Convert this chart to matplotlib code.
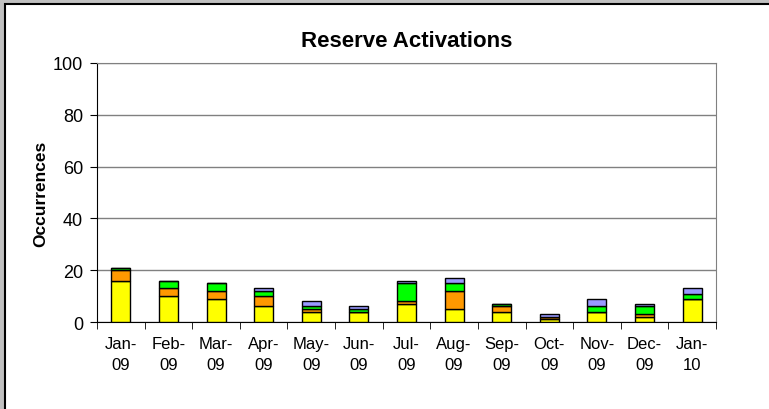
import matplotlib.pyplot as plt
from matplotlib.patches import Rectangle
import numpy as np

plt.rcParams['font.family'] = ['Liberation Sans', 'DejaVu Sans']

months = ["Jan-\n09", "Feb-\n09", "Mar-\n09", "Apr-\n09", "May-\n09", "Jun-\n09",
          "Jul-\n09", "Aug-\n09", "Sep-\n09", "Oct-\n09", "Nov-\n09", "Dec-\n09", "Jan-\n10"]
yellow = [16, 10, 9, 6, 4, 4, 7, 5, 4, 1, 4, 2, 9]
orange = [4, 3, 3, 4, 1, 0, 1, 7, 2, 1, 0, 1, 0]
green = [1, 3, 3, 2, 1, 1, 7, 3, 1, 0, 2, 3, 2]
blue = [0, 0, 0, 1, 2, 1, 1, 2, 0, 1, 3, 1, 2]

fig = plt.figure(figsize=(7.69, 4.10), dpi=100)
fig.patch.set_facecolor("#c0c0c0")
fig.add_artist(Rectangle((5 / 769, -0.01), 1.0, 1 - 5 / 410 + 0.01, transform=fig.transFigure,
                         facecolor="white", edgecolor="black", linewidth=1.5, zorder=-10))

ax = fig.add_axes([97 / 769, 1 - 323 / 410, (716 - 97) / 769, (323 - 64) / 410])
x = np.arange(len(months))
series = [(yellow, "#ffff00"), (orange, "#ff9900"), (green, "#00ff00"), (blue, "#9999ff")]
bottom = np.zeros(len(months))
for vals, col in series:
    ax.bar(x, vals, 0.4, bottom=bottom, color=col, edgecolor="black", linewidth=1, zorder=3)
    bottom += np.array(vals)

ax.set_xlim(-0.5, len(months) - 0.5)
ax.set_ylim(0, 100)
ax.set_yticks(range(0, 101, 20))
ax.yaxis.grid(True, color="#808080", linewidth=1)
ax.set_axisbelow(True)
ax.set_xticks(x)
ax.set_xticklabels(months, fontsize=12, linespacing=1.5)
ax.set_xticks(np.arange(-0.5, len(months)), minor=True)
ax.tick_params(axis="x", which="major", length=0, pad=10)
ax.tick_params(axis="x", which="minor", length=5, direction="out")
ax.tick_params(axis="y", labelsize=13, length=5, direction="out", pad=5)
for s in ["top", "right"]:
    ax.spines[s].set_color("#808080")
ax.set_ylabel("Occurrences", fontsize=12.5, fontweight="bold", labelpad=3)
ax.set_title("Reserve Activations", fontsize=16, fontweight="bold", pad=12)

fig.savefig("out.png", dpi=100, facecolor=fig.get_facecolor())
